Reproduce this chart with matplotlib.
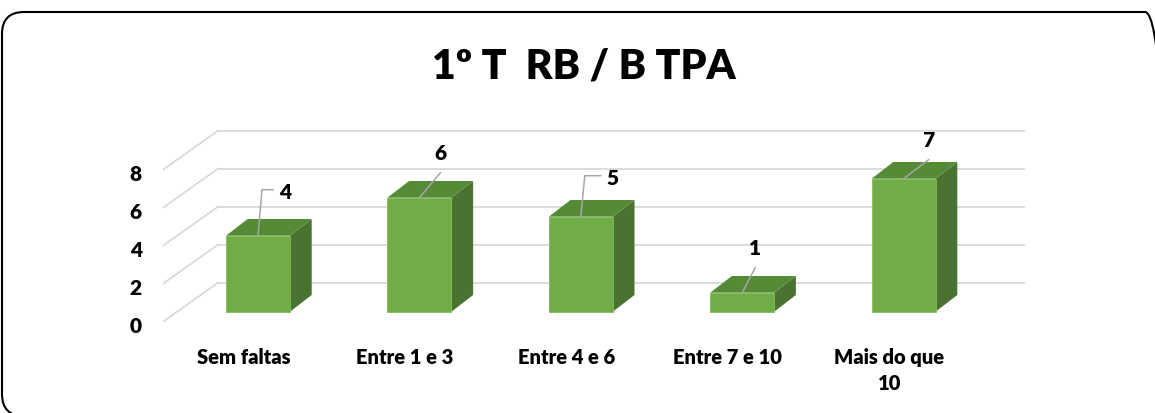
import matplotlib
matplotlib.use('Agg')
import matplotlib.pyplot as plt
from matplotlib.patches import Polygon, FancyBboxPatch
from matplotlib.transforms import IdentityTransform, ScaledTranslation

plt.rcParams['font.family'] = ['Lato', 'DejaVu Sans']
plt.rcParams['font.weight'] = 'heavy'

# ---- data ----
categories = ['Sem faltas', 'Entre 1 e 3', 'Entre 4 e 6', 'Entre 7 e 10', 'Mais do que\n10']
values = [4, 6, 5, 1, 7]
yticks = [0, 2, 4, 6, 8]
title = '1º T  RB / B TPA'

# ---- style / geometry ----
W, H, DPI = 1155, 414, 100
CAT_PX, VAL_PX = 161.4, 19.0          # pixels per category / per value unit
WALL_DX, WALL_DY = 55 / CAT_PX, 39 / VAL_PX    # depth of floor (front -> back wall)
BAR_FX, BAR_FY = 14.3 / CAT_PX, 10 / VAL_PX    # bar front face offset
BAR_DX, BAR_DY = 21.7 / CAT_PX, 16.7 / VAL_PX  # bar depth
BAR_W = 64 / CAT_PX
FRONT, TOP, SIDE = '#70AD47', '#558A37', '#4A7230'
GRID = '#D9D9D9'
LEADER = '#A6A6A6'
# label offsets (px, right/up) from the bar's front-top centre, and leader type
label_offsets = [(27, 44), (21, 45), (32, 39), (13, 45), (25, 39)]
leader_elbow = [True, False, True, False, False]


def px(dx, dy):
    return dx / CAT_PX, dy / VAL_PX


fig = plt.figure(figsize=(W / DPI, H / DPI), dpi=DPI)
xmin = -0.5
xmax = xmin + (1025 - 163) / CAT_PX
ymax = 10.2
ax = fig.add_axes([163 / W, (H - 322.7) / H, (1025 - 163) / W, ymax * VAL_PX / H])
ax.set_xlim(xmin, xmax)
ax.set_ylim(0, ymax)
ax.axis('off')

# back wall gridlines and side wall diagonals
for v in yticks:
    ax.plot([xmin + WALL_DX, 4.5 + WALL_DX], [v + WALL_DY, v + WALL_DY], color=GRID, lw=1.3, zorder=1)
    ax.plot([xmin, xmin + WALL_DX], [v, v + WALL_DY], color=GRID, lw=1.3, zorder=1)
    ax.text(xmin, v, str(v), ha='right', va='center', fontsize=15, color='black',
            transform=ax.transData + ScaledTranslation(-21 / DPI, -4 / DPI, fig.dpi_scale_trans))

# 3D-looking bars
for i, v in enumerate(values):
    xl = i + BAR_FX - BAR_W / 2
    xr = i + BAR_FX + BAR_W / 2
    y0 = BAR_FY
    y1 = BAR_FY + v
    ax.add_patch(Polygon([(xr, y0), (xr + BAR_DX, y0 + BAR_DY), (xr + BAR_DX, y1 + BAR_DY), (xr, y1)],
                         closed=True, fc=SIDE, ec='none', zorder=3))
    ax.add_patch(Polygon([(xl, y1), (xr, y1), (xr + BAR_DX, y1 + BAR_DY), (xl + BAR_DX, y1 + BAR_DY)],
                         closed=True, fc=TOP, ec='none', zorder=3))
    ax.add_patch(Polygon([(xl, y0), (xr, y0), (xr, y1), (xl, y1)],
                         closed=True, fc=FRONT, ec='#80BD5A', lw=0.6, zorder=4))

    # data label with leader line
    ax_x, ax_y = i + BAR_FX, y1
    ox, oy = label_offsets[i]
    lx, ly = px(ox, oy)
    if leader_elbow[i]:
        cx, cy = px(4, oy + 2)
        ex, ey = px(ox - 12, oy + 2)
        ax.plot([ax_x, ax_x + cx, ax_x + ex], [ax_y, ax_y + cy, ax_y + ey], color=LEADER, lw=1.1, zorder=5)
    else:
        ex, ey = px(ox, oy - 20)
        ax.plot([ax_x, ax_x + ex], [ax_y, ax_y + ey], color=LEADER, lw=1.1, zorder=5)
    ax.text(ax_x + lx, ax_y + ly, str(v), ha='center', va='center', fontsize=15, color='black', zorder=6)

# category labels on the front edge of the floor
for i, c in enumerate(categories):
    ax.text(i, 0, c, ha='center', va='top', fontsize=14.5, color='black', linespacing=1.45,
            transform=ax.transData + ScaledTranslation(0, -25 / DPI, fig.dpi_scale_trans))

fig.text(584 / W, (H - 78.3) / H, title, ha='center', va='baseline', fontsize=29.5, color='black')

# rounded chart border
border = FancyBboxPatch((2, -3), 1165, 404, boxstyle='round,pad=0,rounding_size=22',
                        transform=IdentityTransform(), fc='none', ec='black', lw=1.5)
fig.patches.append(border)

fig.savefig('out.png', dpi=DPI)
